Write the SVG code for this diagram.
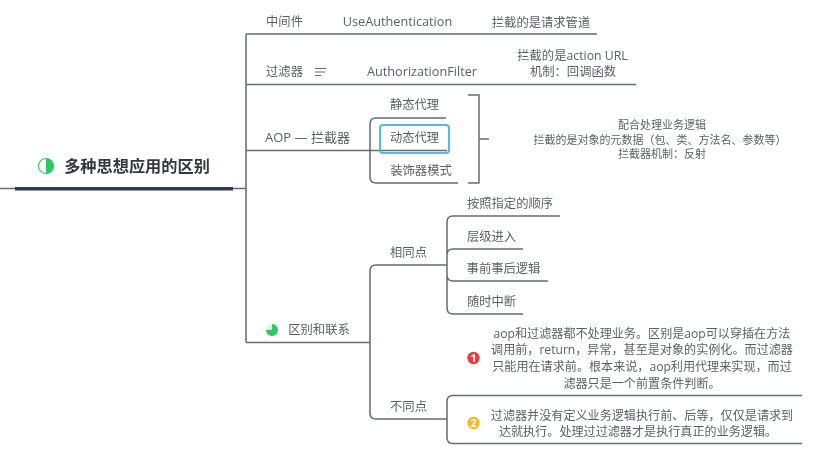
<svg xmlns="http://www.w3.org/2000/svg" width="823" height="457" viewBox="0 0 823 457">
<style>
text{font-family:"Open Sans","Noto Sans CJK SC",sans-serif;font-size:12.300px;fill:#5a5f66;text-anchor:middle}
.c{fill:none;stroke:#666b73;stroke-width:1.500;stroke-linejoin:round}
.t{font-family:"Noto Sans CJK SC",sans-serif;font-size:16.200px;font-weight:700;fill:#33383f}
.s{font-size:11px}
.d{font-size:12.100px}
.n{font-size:10.500px;font-weight:700;fill:#fff}
</style>
<defs><filter id="b" x="-2%" y="-2%" width="104%" height="104%"><feGaussianBlur stdDeviation="0.5"/></filter></defs>
<rect width="823" height="457" fill="#fff"/>
<g filter="url(#b)">
<g id="connectors">
<path class="c" d="M0 188.500H15M233 188.500H246M246 34V342.500"/>
<path class="c" d="M246 34H597M246 84.500H636M246 150.500H447"/>
<path class="c" d="M370 150.500V124Q370 118 376 118H446M370 150.500V177Q370 183 376 183H458"/>
<path class="c" d="M468 95H479V183H468M479 139H489"/>
<path class="c" d="M246 342.500H370M370 342.500V271Q370 265 376 265H447M370 342.500V413Q370 419 376 419H447"/>
<path class="c" d="M447 265V222Q447 216 453 216H560M447 265V255Q447 249 453 249H523M447 265V275Q447 281 453 281H548M447 265V308Q447 314 453 314H523"/>
<path class="c" d="M802 395.500H453Q447 395.500 447 401.500V437.500Q447 443.500 453 443.500H802"/>
</g>
<g id="root">
<rect x="15" y="187" width="218" height="3.500" fill="#2d3b50"/>
<circle cx="46" cy="166" r="7.500" fill="#fff" stroke="#34c76a" stroke-width="1.200"/>
<path d="M46 158.500A7.500 7.500 0 0 1 46 173.500Z" fill="#2fc763"/>
<text class="t" x="137" y="172">多种思想应用的区别</text>
</g>
<g id="n-middleware"><text x="284.500" y="26">中间件</text><text x="397.500" y="26" style="font-size:12.700px">UseAuthentication</text><text x="541" y="27">拦截的是请求管道</text></g>
<g id="n-filter">
<text x="284.500" y="76">过滤器</text>
<path d="M315 68.500H326M315 72H325M315 75.500H321" stroke="#666b73" stroke-width="1.200" fill="none"/>
<text x="422" y="76" style="font-size:12.700px">AuthorizationFilter</text>
<text x="572.500" y="60">拦截的是action URL</text><text x="573" y="76">机制：回调函数</text>
</g>
<g id="n-aop"><text x="307.500" y="142" style="font-size:13px">AOP — 拦截器</text></g>
<g id="n-static"><text x="414.500" y="109">静态代理</text></g>
<g id="n-dynamic"><rect x="380" y="125" width="69" height="28" rx="3" fill="none" stroke="#56b8e6" stroke-width="2"/><text x="414.500" y="142">动态代理</text></g>
<g id="n-decorator"><text x="421" y="175">装饰器模式</text></g>
<g id="n-aop-note"><text class="s" x="662" y="129">配合处理业务逻辑</text><text class="s" x="660" y="144">拦截的是对象的元数据（包、类、方法名、参数等）</text><text class="s" x="662" y="158">拦截器机制：反射</text></g>
<g id="n-relation">
<circle cx="272" cy="330" r="6" fill="#d6f5e0"/><path d="M272 330V324A6 6 0 1 1 266 330Z" fill="#2fc763"/>
<text x="319" y="334">区别和联系</text>
</g>
<g id="n-same"><text x="408.500" y="257">相同点</text></g>
<g id="n-s1"><text x="510" y="208">按照指定的顺序</text></g>
<g id="n-s2"><text x="491.500" y="241">层级进入</text></g>
<g id="n-s3"><text x="503.500" y="273">事前事后逻辑</text></g>
<g id="n-s4"><text x="491.500" y="306">随时中断</text></g>
<g id="n-diff"><text x="408.500" y="411">不同点</text></g>
<g id="n-d1">
<circle cx="473.500" cy="358" r="6.200" fill="#e2403a"/><text class="n" x="473.500" y="362">1</text>
<text class="d" x="642" y="338">aop和过滤器都不处理业务。区别是aop可以穿插在方法</text>
<text class="d" x="642" y="354">调用前，return，异常，甚至是对象的实例化。而过滤器</text>
<text class="d" x="642" y="371">只能用在请求前。根本来说，aop利用代理来实现，而过</text>
<text class="d" x="642" y="388">滤器只是一个前置条件判断。</text>
</g>
<g id="n-d2">
<circle cx="473.500" cy="423" r="6.200" fill="#f5b921"/><text class="n" x="473.500" y="427">2</text>
<text class="d" x="642" y="420">过滤器并没有定义业务逻辑执行前、后等，仅仅是请求到</text>
<text class="d" x="638" y="436">达就执行。处理过过滤器才是执行真正的业务逻辑。</text>
</g>
</g>
</svg>
